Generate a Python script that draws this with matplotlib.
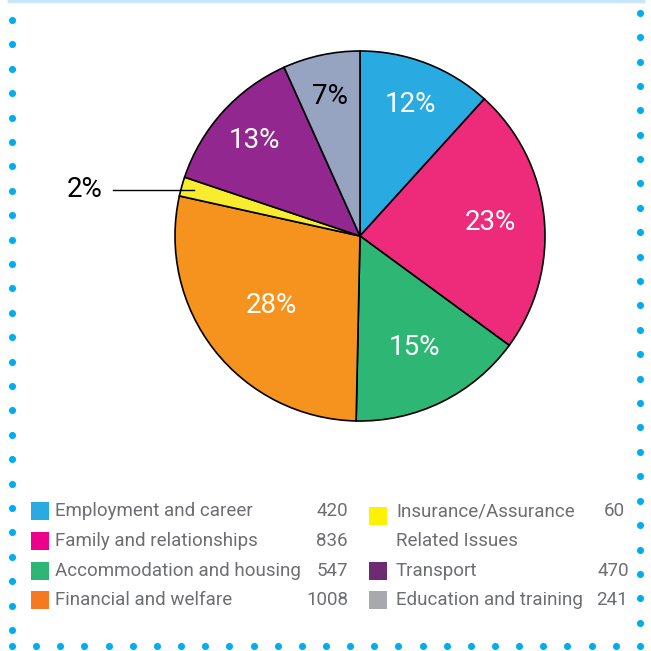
import numpy as np
import matplotlib.pyplot as plt
from matplotlib.patches import Rectangle

# Data
categories = ['Employment and career', 'Family and relationships', 'Accommodation and housing',
              'Financial and welfare', 'Insurance/Assurance\nRelated Issues', 'Transport',
              'Education and training']
values = [420, 836, 547, 1008, 60, 470, 241]

slice_colors = ['#29aae1', '#ee2b7b', '#2db674', '#f6921e', '#f7ec2e', '#92278f', '#96a4c2']
legend_colors = ['#29abe2', '#ec008c', '#2db674', '#f47920', '#fff200', '#6e2b74', '#a7a9ac']
pct_colors = ['white', 'white', 'white', 'white', 'black', 'white', 'black']
pct_radius = [0.76, 0.71, 0.67, 0.61, None, 0.77, 0.77]

W = 651
fig = plt.figure(figsize=(6.51, 6.51), dpi=100)

# background layer in pixel coords: dotted frame + legend
bg = fig.add_axes([0, 0, 1, 1])
bg.set_xlim(0, W)
bg.set_ylim(W, 0)
bg.axis('off')

dot = '#00aeef'
k = np.arange(26)
bg.scatter(np.full(26, 12), 20 + 24.4 * k, s=26, color=dot, lw=0)
bg.scatter(np.full(26, 640), 12.7 + 24.4 * k, s=26, color=dot, lw=0)
kb = np.arange(27)
bg.scatter(12 + 24.15 * kb, np.full(27, 646), s=26, color=dot, lw=0)
bg.plot([7, 645], [1, 1], color='#c9e8f7', lw=2.5, solid_capstyle='butt')

# pie
cx, cy, R, L = 360, 236, 185, 1.3
ax = fig.add_axes([(cx - L * R) / W, (W - cy - L * R) / W, 2 * L * R / W, 2 * L * R / W])
wedges, texts, autotexts = ax.pie(
    values, colors=slice_colors, startangle=90, counterclock=False,
    autopct=lambda p: f'{p:.0f}%', pctdistance=0.72,
    wedgeprops=dict(edgecolor='black', linewidth=1.2),
    textprops=dict(fontsize=20, family=['Roboto', 'DejaVu Sans']))
ax.set_xlim(-L, L)
ax.set_ylim(-L, L)
ax.set_aspect('equal')

for i, (w, t) in enumerate(zip(wedges, autotexts)):
    t.set_color(pct_colors[i])
    ang = np.deg2rad((w.theta1 + w.theta2) / 2)
    if pct_radius[i] is not None:
        t.set_position((pct_radius[i] * np.cos(ang), pct_radius[i] * np.sin(ang)))
    else:
        # small slice: label outside with a leader line
        px, py = 0.93 * np.cos(ang), 0.93 * np.sin(ang)
        ax.plot([-1.335, px], [py, py], color='black', lw=1.0, clip_on=False)
        t.set_position((-1.39, py))
        t.set_ha('right')

# legend
txt_col = '#6d6e71'
lfont = dict(fontsize=13.5, color=txt_col, family=['Roboto', 'DejaVu Sans'])
row_y = [511, 541, 571, 600]
left_rows = [0, 1, 2, 3]
right_rows = [0, 2, 3]

for i, r in zip(range(4), left_rows):
    y = row_y[r]
    bg.add_patch(Rectangle((31, y - 9), 18, 18, color=legend_colors[i], lw=0))
    bg.text(55, y, categories[i], va='center', ha='left', **lfont)
    bg.text(348, y, str(values[i]), va='center', ha='right', **lfont)

right_val_x = [625, 629, 628]
for j, r in enumerate(right_rows):
    i = 4 + j
    y = row_y[r]
    lines = categories[i].split('\n')
    sy = y + (4.5 if len(lines) > 1 else 0)
    bg.add_patch(Rectangle((369, sy - 9), 18, 18, color=legend_colors[i], lw=0))
    for n, line in enumerate(lines):
        bg.text(396, row_y[r + n], line, va='center', ha='left', **lfont)
    bg.text(right_val_x[j], y, str(values[i]), va='center', ha='right', **lfont)

fig.savefig('out.png', dpi=100)
